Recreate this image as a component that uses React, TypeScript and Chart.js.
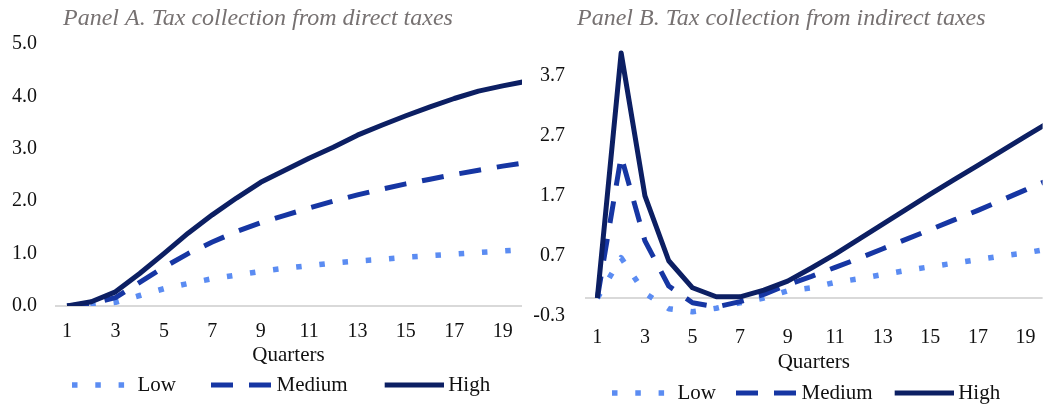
import React, { useEffect, useRef } from 'react';
import { Chart, registerables } from 'chart.js';

Chart.register(...registerables);

// ---------- data ----------
const QUARTERS = [1, 2, 3, 4, 5, 6, 7, 8, 9, 10, 11, 12, 13, 14, 15, 16, 17, 18, 19, 20];
const X_TICK_LABELS = [1, 3, 5, 7, 9, 11, 13, 15, 17, 19];
const SERIES_NAMES = ['Low', 'Medium', 'High'];
const X_TITLE = 'Quarters';

const A_TITLE = 'Panel A. Tax collection from direct taxes';
const A_Y_TICKS = [0, 1, 2, 3, 4, 5];
const A_LOW = [0, 0.01, 0.07, 0.2, 0.33, 0.43, 0.52, 0.59, 0.66, 0.72, 0.77, 0.82, 0.86, 0.89, 0.93, 0.96, 0.99, 1.02, 1.05, 1.08];
const A_MEDIUM = [0, 0.04, 0.16, 0.45, 0.74, 1.0, 1.22, 1.42, 1.59, 1.73, 1.87, 2.0, 2.12, 2.23, 2.33, 2.42, 2.51, 2.59, 2.67, 2.74];
const A_HIGH = [0, 0.08, 0.27, 0.62, 1.0, 1.39, 1.74, 2.06, 2.36, 2.59, 2.82, 3.03, 3.26, 3.45, 3.63, 3.8, 3.96, 4.1, 4.2, 4.29];

const B_TITLE = 'Panel B. Tax collection from indirect taxes';
const B_Y_TICKS = [-0.3, 0.7, 1.7, 2.7, 3.7];
const B_LOW = [0, 0.67, 0.08, -0.18, -0.23, -0.17, -0.08, 0.0, 0.12, 0.17, 0.26, 0.32, 0.39, 0.46, 0.52, 0.58, 0.64, 0.7, 0.75, 0.82];
const B_MEDIUM = [0, 2.36, 0.95, 0.2, -0.08, -0.15, -0.06, 0.06, 0.22, 0.36, 0.51, 0.66, 0.82, 0.98, 1.14, 1.3, 1.46, 1.63, 1.8, 1.97];
const B_HIGH = [0, 4.08, 1.7, 0.62, 0.17, 0.02, 0.02, 0.13, 0.28, 0.5, 0.73, 0.98, 1.23, 1.48, 1.73, 1.97, 2.21, 2.45, 2.69, 2.93];

// ---------- styles ----------
const SERIF = "'Times New Roman', 'Liberation Serif', serif";
const TEXT = '#111111';
const TITLE_COLOR = '#767171';
const ZERO_LINE = '#d9d9d9';
const STYLES = [
  { color: '#5b8cf2', width: 5.5, dash: [5.5, 17.8] },
  { color: '#1636a3', width: 5, dash: [22, 16] },
  { color: '#0c1f63', width: 5, dash: [] as number[] },
];
const MARKER_W = [61, 61, 59];
const MARKER_EXT = 6;
const LEGEND_PAD = 4;

type PanelCfg = {
  title: string;
  yTicks: number[];
  yMin: number;
  yMax: number;
  xMin: number;
  xMax: number;
  low: number[];
  medium: number[];
  high: number[];
  width: number;
  padRight: number;
  padBottom: number;
  xHeight: number;
  xTickPad: number;
  xTitlePad: number;
  yTickPad: number;
  titleX: number;
  legendBoxW: number;
  legendX: number;
};

function makeMarker(style: { color: string; width: number; dash: number[] }, markerW: number, boxW: number) {
  const c = document.createElement('canvas');
  c.width = boxW + 2 * MARKER_EXT;
  c.height = 10;
  const ctx = c.getContext('2d')!;
  ctx.strokeStyle = style.color;
  ctx.lineWidth = style.width;
  ctx.lineCap = 'butt';
  ctx.setLineDash(style.dash);
  const x1 = c.width;
  const x0 = x1 - markerW;
  ctx.beginPath();
  ctx.moveTo(x0, 5);
  ctx.lineTo(x1, 5);
  ctx.stroke();
  return c;
}

function buildConfig(p: PanelCfg): any {
  const lines = [p.low, p.medium, p.high];
  const datasets = lines.map((vals, i) => ({
    label: SERIES_NAMES[i],
    data: QUARTERS.map((q, j) => ({ x: q, y: vals[j] })),
    borderColor: STYLES[i].color,
    backgroundColor: STYLES[i].color,
    borderWidth: STYLES[i].width,
    borderDash: STYLES[i].dash,
    borderCapStyle: 'butt',
    borderJoinStyle: 'round',
    pointRadius: 0,
    pointHoverRadius: 0,
    tension: 0,
    fill: false,
    order: 2 - i,
  }));
  const markers = STYLES.map((s, i) => makeMarker(s, MARKER_W[i], p.legendBoxW));
  const yTickValues = p.yTicks.includes(0) ? p.yTicks : [...p.yTicks, 0].sort((a, b) => a - b);

  const placeBlocks = {
    id: 'placeBlocks',
    afterLayout(chart: any) {
      const t = chart.titleBlock;
      if (t) {
        t.left = p.titleX;
        t.right = p.width;
      }
      const l = chart.legend;
      if (l) {
        l.left = p.legendX;
        l.right = p.width;
      }
    },
  };

  return {
    type: 'line',
    data: { datasets },
    options: {
      animation: false,
      responsive: false,
      maintainAspectRatio: false,
      events: [],
      layout: { padding: { left: 0, top: 0, right: p.padRight, bottom: p.padBottom } },
      plugins: {
        title: {
          display: true,
          text: p.title,
          align: 'start',
          color: TITLE_COLOR,
          font: { family: SERIF, size: 24, style: 'italic', weight: 'normal' },
          padding: { top: 4, bottom: 11.2 },
        },
        legend: {
          display: true,
          position: 'bottom',
          align: 'start',
          labels: {
            usePointStyle: true,
            pointStyleWidth: p.legendBoxW,
            padding: LEGEND_PAD,
            color: TEXT,
            font: { family: SERIF, size: 21 },
            generateLabels: () =>
              SERIES_NAMES.map((name, i) => ({
                text: name,
                pointStyle: markers[i],
                fillStyle: 'rgba(0,0,0,0)',
                strokeStyle: 'rgba(0,0,0,0)',
                lineWidth: 0,
                hidden: false,
                datasetIndex: i,
                fontColor: TEXT,
              })),
          },
        },
        tooltip: { enabled: false },
      },
      scales: {
        x: {
          type: 'linear',
          min: p.xMin,
          max: p.xMax,
          afterBuildTicks: (s: any) => {
            s.ticks = X_TICK_LABELS.map((v) => ({ value: v }));
          },
          afterFit: (s: any) => {
            s.height = p.xHeight;
          },
          ticks: {
            autoSkip: false,
            maxRotation: 0,
            padding: p.xTickPad,
            color: TEXT,
            font: { family: SERIF, size: 20 },
            callback: (v: any) => String(v),
          },
          grid: { display: false, drawTicks: false },
          border: { display: false },
          title: {
            display: true,
            text: X_TITLE,
            color: TEXT,
            font: { family: SERIF, size: 21 },
            padding: { top: 0, bottom: p.xTitlePad },
          },
        },
        y: {
          type: 'linear',
          min: p.yMin,
          max: p.yMax,
          afterBuildTicks: (s: any) => {
            s.ticks = yTickValues.map((v) => ({ value: v }));
          },
          afterFit: (s: any) => {
            s.width = 55;
          },
          ticks: {
            padding: p.yTickPad,
            color: TEXT,
            font: { family: SERIF, size: 20 },
            callback: (v: any) => (p.yTicks.includes(v) ? Number(v).toFixed(1) : ''),
          },
          grid: {
            drawTicks: false,
            lineWidth: 2,
            color: (ctx: any) => (ctx.tick && ctx.tick.value === 0 ? ZERO_LINE : 'rgba(0,0,0,0)'),
          },
          border: { display: false },
        },
      },
    },
    plugins: [placeBlocks],
  };
}

const PANEL_A: PanelCfg = {
  title: A_TITLE,
  yTicks: A_Y_TICKS,
  yMin: 0,
  yMax: 5,
  xMin: 0.5,
  xMax: 19.8,
  low: A_LOW,
  medium: A_MEDIUM,
  high: A_HIGH,
  width: 530,
  padRight: 8,
  padBottom: 1.5,
  xHeight: 64.5,
  xTickPad: 13.5,
  xTitlePad: 2,
  yTickPad: 18,
  titleX: 63,
  legendBoxW: 86,
  legendX: 37,
};

const PANEL_B: PanelCfg = {
  title: B_TITLE,
  yTicks: B_Y_TICKS,
  yMin: -0.3,
  yMax: 4.23,
  xMin: 0.48,
  xMax: 19.72,
  low: B_LOW,
  medium: B_MEDIUM,
  high: B_HIGH,
  width: 515,
  padRight: 0,
  padBottom: -6.5,
  xHeight: 62.5,
  xTickPad: 9.5,
  xTitlePad: 3,
  yTickPad: 20,
  titleX: 47,
  legendBoxW: 71,
  legendX: 62,
};

function Panel({ cfg, left }: { cfg: PanelCfg; left: number }) {
  const ref = useRef<HTMLCanvasElement>(null);
  useEffect(() => {
    if (!ref.current) return;
    const chart = new Chart(ref.current, buildConfig(cfg));
    return () => chart.destroy();
  }, [cfg]);
  return (
    <canvas
      ref={ref}
      width={cfg.width}
      height={407}
      style={{ position: 'absolute', left, top: 0, width: cfg.width, height: 407, display: 'block' }}
    />
  );
}

export default function App() {
  return (
    <div style={{ position: 'fixed', left: 0, top: 0, width: 1045, height: 407, background: '#ffffff', overflow: 'hidden' }}>
      <Panel cfg={PANEL_A} left={0} />
      <Panel cfg={PANEL_B} left={530} />
    </div>
  );
}
